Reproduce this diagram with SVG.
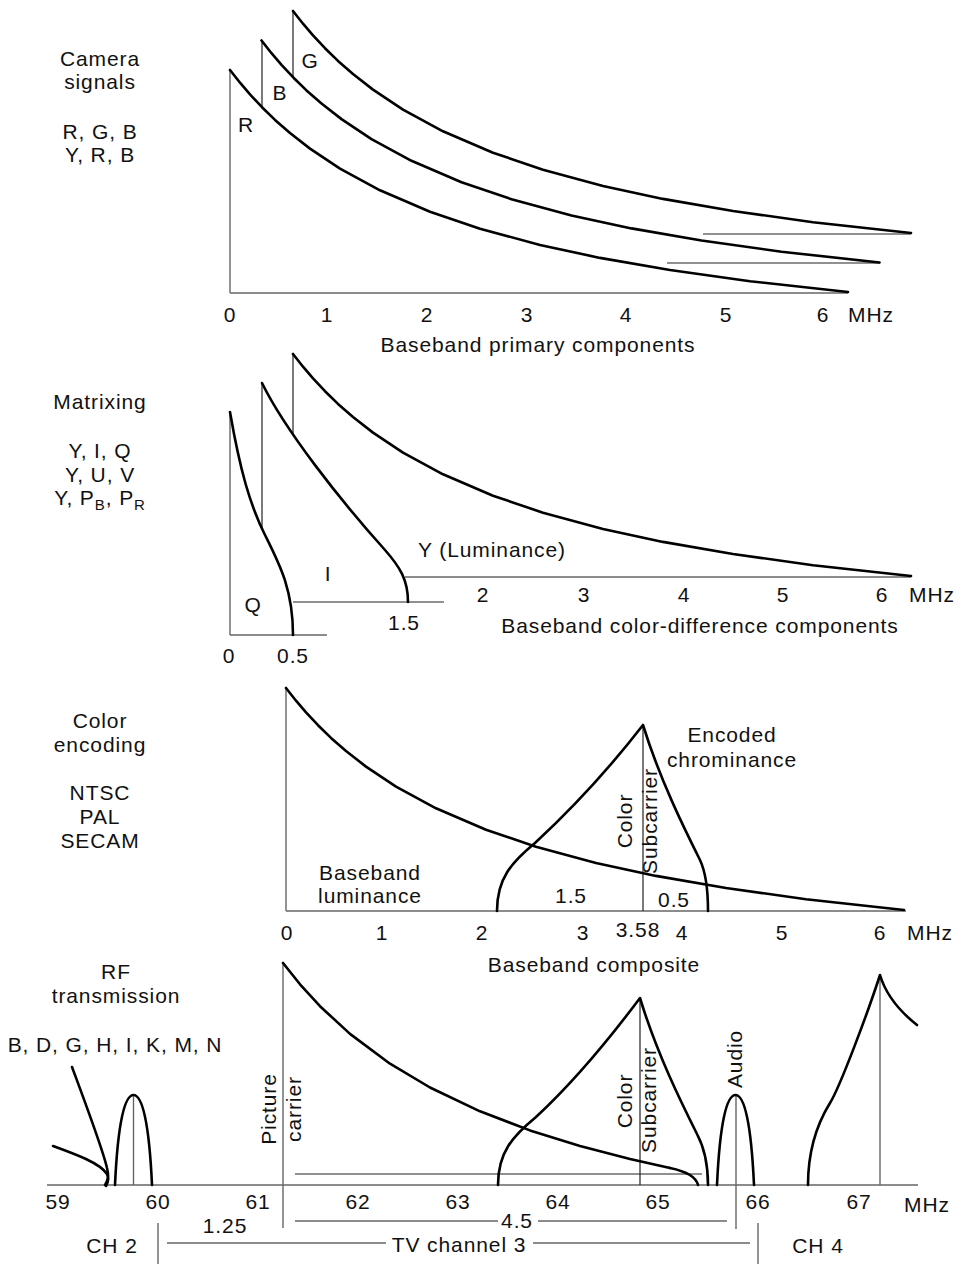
<svg xmlns="http://www.w3.org/2000/svg" width="964" height="1264" viewBox="0 0 964 1264">
<style>
text{font-family:"Liberation Sans",Arial,sans-serif;font-size:21px;fill:#111;letter-spacing:0.9px}
.m{text-anchor:middle}
.c{fill:none;stroke:#000;stroke-width:2.6;stroke-linejoin:round;stroke-linecap:round}
.a{fill:none;stroke:#666;stroke-width:1.4}
.t{fill:none;stroke:#222;stroke-width:1.2}
.sub{font-size:15px}
</style>
<defs>
<polyline id="decay" class="c" points="230,70 240,82.7 250,94.4 262,107.2 275,119.9 290,133 310,148.6 340,168.6 380,190.3 430,211.7 480,228.7 540,244.9 600,257.9 670,270 750,281.2 848,292"/>
</defs>
<rect width="964" height="1264" fill="#fff"/>

<g id="labels-left">
<text class="m" x="100" y="66">Camera</text>
<text class="m" x="100" y="89">signals</text>
<text class="m" x="100" y="139">R, G, B</text>
<text class="m" x="100" y="162">Y, R, B</text>
<text class="m" x="100" y="409">Matrixing</text>
<text class="m" x="100" y="458">Y, I, Q</text>
<text class="m" x="100" y="481.5">Y, U, V</text>
<text class="m" x="100" y="505">Y, P<tspan class="sub" dy="5">B</tspan><tspan dy="-5">, P</tspan><tspan class="sub" dy="5">R</tspan></text>
<text class="m" x="100" y="728">Color</text>
<text class="m" x="100" y="752">encoding</text>
<text class="m" x="100" y="800">NTSC</text>
<text class="m" x="100" y="824">PAL</text>
<text class="m" x="100" y="848">SECAM</text>
<text class="m" x="116" y="979">RF</text>
<text class="m" x="116" y="1003">transmission</text>
<text class="m" x="115" y="1052">B, D, G, H, I, K, M, N</text>
</g>

<g id="panel-primary">
<line class="a" x1="230" y1="70" x2="230" y2="293"/>
<line class="a" x1="230" y1="293" x2="848" y2="293"/>
<line class="t" x1="262" y1="40" x2="262" y2="107"/>
<line class="t" x1="293" y1="10" x2="293" y2="77"/>
<line class="t" x1="703" y1="234" x2="911" y2="234"/>
<line class="t" x1="667" y1="263" x2="880" y2="263"/>
<use href="#decay"/>
<use href="#decay" transform="translate(31.5,-29.5)"/>
<use href="#decay" transform="translate(63,-59)"/>
<text class="m" x="246" y="132">R</text>
<text class="m" x="280" y="100">B</text>
<text class="m" x="310" y="68">G</text>
<text class="m" x="230" y="322">0</text>
<text class="m" x="327" y="322">1</text>
<text class="m" x="427" y="322">2</text>
<text class="m" x="527" y="322">3</text>
<text class="m" x="626" y="322">4</text>
<text class="m" x="726" y="322">5</text>
<text class="m" x="823" y="322">6</text>
<text class="m" x="871" y="322">MHz</text>
<text class="m" x="538" y="352">Baseband primary components</text>
</g>

<g id="panel-matrixing">
<line class="a" x1="230" y1="412" x2="230" y2="635"/>
<line class="a" x1="230" y1="635" x2="327" y2="635"/>
<line class="t" x1="293" y1="602" x2="444" y2="602"/>
<line class="a" x1="405" y1="577" x2="911" y2="577"/>
<line class="t" x1="262" y1="383" x2="262" y2="528"/>
<line class="t" x1="293" y1="353" x2="293" y2="434"/>
<path class="c" d="M230,412 C240,470 250,505 265,535 C280,565 293,590 293,635"/>
<path class="c" d="M262,383 C285,430 340,500 385,550 C400,567 408,580 408,602"/>
<use href="#decay" transform="translate(63,284)"/>
<text class="m" x="253" y="612">Q</text>
<text class="m" x="328" y="581">I</text>
<text class="m" x="492" y="557">Y (Luminance)</text>
<text class="m" x="404" y="630">1.5</text>
<text class="m" x="229" y="663">0</text>
<text class="m" x="293" y="663">0.5</text>
<text class="m" x="483" y="602">2</text>
<text class="m" x="584" y="602">3</text>
<text class="m" x="684" y="602">4</text>
<text class="m" x="783" y="602">5</text>
<text class="m" x="882" y="602">6</text>
<text class="m" x="932" y="602">MHz</text>
<text class="m" x="700" y="633">Baseband color-difference components</text>
</g>

<g id="panel-encoding">
<line class="a" x1="286" y1="688" x2="286" y2="911"/>
<line class="a" x1="286" y1="911" x2="906" y2="911"/>
<line class="t" x1="643" y1="725" x2="643" y2="911"/>
<use href="#decay" transform="translate(56,618)"/>
<path class="c" d="M497,911 C497,878 512,862 535,843 C575,806 612,765 643,725 C660,780 685,830 700,860 C707,875 708,895 708,911"/>
<text class="m" x="732" y="742">Encoded</text>
<text class="m" x="732" y="767">chrominance</text>
<text class="m" x="625" y="821" dy="7" transform="rotate(-90 625 821)">Color</text>
<text class="m" x="650" y="821" dy="7" transform="rotate(-90 650 821)">Subcarrier</text>
<text class="m" x="370" y="880">Baseband</text>
<text class="m" x="370" y="903">luminance</text>
<text class="m" x="571" y="903">1.5</text>
<text class="m" x="674" y="907">0.5</text>
<text class="m" x="287" y="940">0</text>
<text class="m" x="382" y="940">1</text>
<text class="m" x="482" y="940">2</text>
<text class="m" x="583" y="940">3</text>
<text class="m" x="638" y="937">3.58</text>
<text class="m" x="682" y="940">4</text>
<text class="m" x="782" y="940">5</text>
<text class="m" x="880" y="940">6</text>
<text class="m" x="930" y="940">MHz</text>
<text class="m" x="594" y="972">Baseband composite</text>
</g>

<g id="panel-rf">
<line class="a" x1="47" y1="1185" x2="918" y2="1185"/>
<line class="a" x1="283" y1="963" x2="283" y2="1228"/>
<line class="t" x1="295" y1="1174" x2="702" y2="1174"/>
<line class="a" x1="133.5" y1="1095" x2="133.5" y2="1185"/>
<line class="t" x1="640" y1="998" x2="640" y2="1185"/>
<line class="a" x1="736" y1="1095" x2="736" y2="1229"/>
<line class="a" x1="880" y1="975" x2="880" y2="1185"/>
<path class="c" d="M72,1067 C88,1110 103,1150 107,1168 C109,1176 109,1181 106,1186"/>
<path class="c" d="M53,1146 C75,1154 100,1163 107,1174 C109,1178 107,1182 105,1185"/>
<path class="c" d="M115,1185 C118,1120 125,1095 133.5,1095 C142,1095 149,1120 152,1185"/>
<polyline class="c" points="283,963 300,984.3 320,1006.2 350,1033.9 390,1063.7 430,1087.5 480,1111.3 530,1130.4 580,1146 630,1158.9 670,1167.9"/>
<path class="c" d="M670,1167.9 C685,1171 696,1176 698,1185"/>
<path class="c" d="M498,1185 C498,1152 513,1136 536,1117 C576,1080 610,1038 640,998 C657,1054 682,1104 697,1134 C705,1149 708,1169 708,1185"/>
<path class="c" d="M717,1185 C720,1120 727,1095 735.5,1095 C744,1095 751,1120 754,1185"/>
<path class="c" d="M808,1185 C808,1150 817,1124 830,1103 C840,1087 868,1012 880,975 Q888,1002 917,1025"/>
<text class="m" x="269" y="1109" dy="7" transform="rotate(-90 269 1109)">Picture</text>
<text class="m" x="294" y="1109" dy="7" transform="rotate(-90 294 1109)">carrier</text>
<text class="m" x="625" y="1101" dy="7" transform="rotate(-90 625 1101)">Color</text>
<text class="m" x="649" y="1100" dy="7" transform="rotate(-90 649 1100)">Subcarrier</text>
<text class="m" x="735" y="1059" dy="7" transform="rotate(-90 735 1059)">Audio</text>
<text class="m" x="58" y="1209">59</text>
<text class="m" x="158" y="1209">60</text>
<text class="m" x="258" y="1209">61</text>
<text class="m" x="358" y="1209">62</text>
<text class="m" x="458" y="1209">63</text>
<text class="m" x="558" y="1209">64</text>
<text class="m" x="658" y="1209">65</text>
<text class="m" x="758" y="1209">66</text>
<text class="m" x="859" y="1209">67</text>
<text class="m" x="927" y="1212">MHz</text>
</g>

<g id="connectors">
<line class="a" x1="295" y1="1221" x2="498" y2="1221"/>
<line class="a" x1="538" y1="1221" x2="727" y2="1221"/>
<line class="a" x1="167" y1="1243" x2="386" y2="1243"/>
<line class="a" x1="533" y1="1243" x2="750" y2="1243"/>
<line class="a" x1="158" y1="1223" x2="158" y2="1264"/>
<line class="a" x1="758" y1="1223" x2="758" y2="1264"/>
<text class="m" x="225" y="1233">1.25</text>
<text class="m" x="517" y="1228">4.5</text>
<text class="m" x="459" y="1252">TV channel 3</text>
<text class="m" x="112" y="1253">CH 2</text>
<text class="m" x="818" y="1253">CH 4</text>
</g>
</svg>
